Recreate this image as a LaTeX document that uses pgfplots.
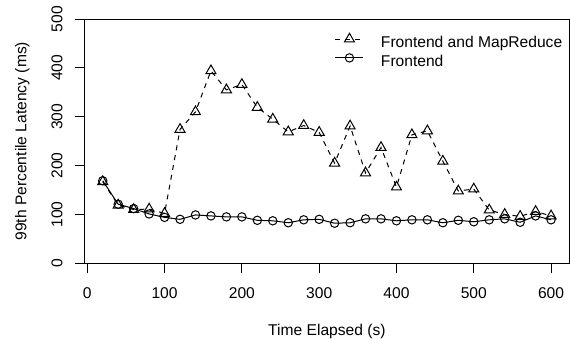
\documentclass[border=0pt]{standalone}
\usepackage{pgfplots}
\pgfplotsset{compat=1.18}
\usepackage{fontspec}
\setmainfont{Liberation Sans}
\newcommand\chartfont{\fontsize{15.6bp}{18bp}\selectfont}
\begin{document}
\begin{tikzpicture}[font=\chartfont]
\useasboundingbox (-84.8bp,-75.7bp) rectangle (485.2bp,263.3bp);
\begin{axis}[
  at={(0,0)}, anchor=south west,
  scale only axis, width=484.2bp, height=244.3bp,
  xmin=-3.2, xmax=623.2, ymin=0, ymax=500,
  xtick={0,100,...,600}, ytick={0,100,...,500},
  /pgf/number format/assume math mode=true,
  tick align=outside, major tick length=10bp,
  xtick pos=left, ytick pos=left,
  tick style={black, line width=1bp},
  axis line style={line width=1bp},
  tick label style={font=\chartfont},
  label style={font=\chartfont},
  xticklabel style={anchor=base, yshift=-25.3bp},
  yticklabel style={xshift=-12.4bp, rotate=90, anchor=base},
  xlabel={Time Elapsed (s)},
  ylabel={99th Percentile Latency (ms)},
  xlabel style={at={(axis description cs:0.5,-0.296)}, anchor=base},
  ylabel style={at={(axis description cs:-0.1204,0.5)}, rotate=0, anchor=base},
  legend cell align=left,
  legend style={draw=none, fill=none, inner sep=0pt, outer sep=0pt,
    font=\chartfont,
    at={(rel axis cs:0.5167,0.9415)}, anchor=north west,
    row sep=0pt, column sep=17bp,
    nodes={inner sep=0pt, text height=11.6bp, text depth=6.4bp}},
  legend image code/.code={\draw[mark repeat=2,mark phase=2,#1] plot coordinates {(0bp,5.6bp) (14bp,5.6bp) (28bp,5.6bp)};},
]
\addplot[black, line width=1bp, dash pattern=on 5bp off 5bp, mark=triangle, mark size=5.8bp, mark options={solid}] coordinates {
(20,167) (40,119) (60,110) (80,111) (100,102) (120,274) (140,310) (160,394) (180,355) (200,366)
(220,319) (240,295) (260,269) (280,282) (300,268) (320,205) (340,281) (360,185) (380,237) (400,156)
(420,263) (440,271) (460,209) (480,148) (500,152) (520,109) (540,100) (560,96) (580,106) (600,97)
};
\addlegendentry{Frontend and MapReduce}
\addplot[black, line width=1bp, mark=o, mark size=4.2bp] coordinates {
(20,169) (40,121) (60,112) (80,101) (100,94) (120,90) (140,99) (160,97) (180,95) (200,95)
(220,88) (240,87) (260,83) (280,89) (300,90) (320,82) (340,83) (360,91) (380,91) (400,87)
(420,89) (440,89) (460,83) (480,88) (500,85) (520,89) (540,91) (560,84) (580,97) (600,89)
};
\addlegendentry{Frontend}
\end{axis}
\end{tikzpicture}
\end{document}
